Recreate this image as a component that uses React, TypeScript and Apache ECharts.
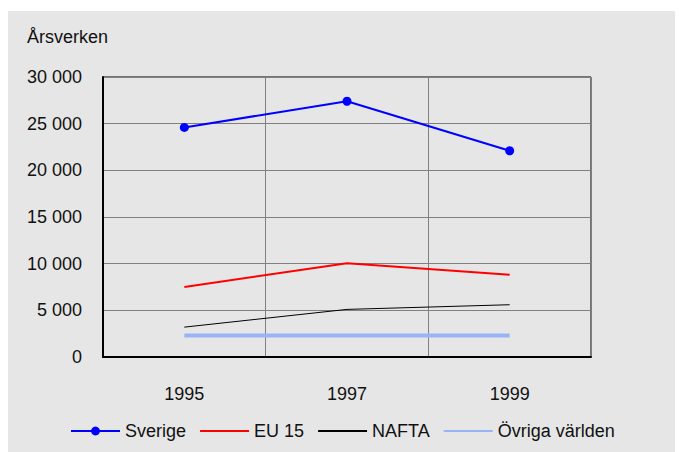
import React, { useEffect, useRef } from "react";
import * as echarts from "echarts";

const years = ["1995", "1997", "1999"];
const sverige = [24600, 27400, 22100];
const eu15 = [7500, 10050, 8800];
const nafta = [3200, 5100, 5600];
const ovriga = [2300, 2300, 2300];
const yTicks = { min: 0, max: 30000, interval: 5000 };

const FONT = "'Liberation Sans', Arial, sans-serif";
const FS = 18;

function fmt(v: number) {
  if (v === 0) return "0";
  const s = String(v);
  return s.slice(0, s.length - 3) + " " + s.slice(s.length - 3);
}

export default function App() {
  const ref = useRef<HTMLDivElement>(null);
  useEffect(() => {
    if (!ref.current) return;
    const chart = echarts.init(ref.current, undefined, { renderer: "svg" });
    const hideSym = { itemStyle: { opacity: 0 } };
    chart.setOption({
      animation: false,
      backgroundColor: "#e6e6e6",
      textStyle: { fontFamily: FONT },
      title: {
        text: "Årsverken",
        left: 14,
        top: 12,
        textStyle: { fontFamily: FONT, fontSize: FS, fontWeight: "normal", color: "#111" },
      },
      grid: {
        left: 95,
        right: 92,
        top: 66,
        bottom: 95,
        show: true,
        borderColor: "#000",
        borderWidth: 1,
        backgroundColor: "transparent",
      },
      legend: {
        left: 57,
        top: 406,
        itemWidth: 49,
        itemHeight: 11,
        itemGap: 13,
        textStyle: { fontFamily: FONT, fontSize: FS, color: "#111" },
        data: [
          { name: "Sverige" },
          { name: "EU 15", ...hideSym },
          { name: "NAFTA", ...hideSym },
          { name: "Övriga världen", ...hideSym },
        ],
      },
      xAxis: {
        type: "category",
        data: years,
        boundaryGap: true,
        axisLine: { lineStyle: { color: "#000", width: 2 } },
        axisTick: { show: false },
        axisLabel: { fontFamily: FONT, fontSize: FS, color: "#111", margin: 28 },
        splitLine: { show: true, lineStyle: { color: "#808080", width: 1 } },
      },
      yAxis: {
        type: "value",
        min: yTicks.min,
        max: yTicks.max,
        interval: yTicks.interval,
        axisLine: { show: true, lineStyle: { color: "#000", width: 2 } },
        axisTick: { show: false },
        axisLabel: {
          fontFamily: FONT,
          fontSize: FS,
          color: "#111",
          margin: 21,
          formatter: (v: number) => fmt(v),
        },
        splitLine: { show: true, lineStyle: { color: "#808080", width: 1 } },
      },
      series: [
        {
          name: "Sverige",
          type: "line",
          data: sverige,
          symbol: "circle",
          symbolSize: 9,
          itemStyle: { color: "#0000ff" },
          lineStyle: { color: "#0000ff", width: 2 },
        },
        {
          name: "EU 15",
          type: "line",
          data: eu15,
          symbol: "none",
          itemStyle: { color: "#ff0000" },
          lineStyle: { color: "#ff0000", width: 2 },
        },
        {
          name: "NAFTA",
          type: "line",
          data: nafta,
          symbol: "none",
          itemStyle: { color: "#000" },
          lineStyle: { color: "#000", width: 1 },
        },
        {
          name: "Övriga världen",
          type: "line",
          data: ovriga,
          symbol: "none",
          itemStyle: { color: "#99b4f5" },
          lineStyle: { color: "#99b4f5", width: 4 },
        },
      ],
    });
    return () => chart.dispose();
  }, []);
  return <div ref={ref} style={{ width: 675, height: 441, marginTop: 3 }} />;
}
